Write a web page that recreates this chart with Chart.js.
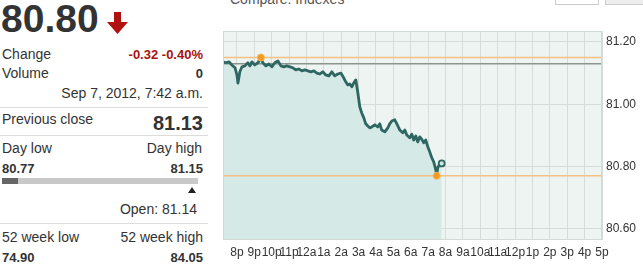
<!DOCTYPE html>
<html><head><meta charset="utf-8">
<script src="https://cdn.jsdelivr.net/npm/chart.js@4/dist/chart.umd.min.js"></script>
<style>
html,body{margin:0;padding:0;background:#fff;overflow:hidden;}
body{width:643px;height:269px;position:relative;font-family:"Liberation Sans",Arial,sans-serif;color:#333;}
.t{position:absolute;white-space:nowrap;line-height:1;}
.r{text-align:right;}
.b{font-weight:bold;}
.sep{position:absolute;left:0;width:208px;height:1px;background:#dcdcdc;}
#wrap{position:absolute;left:215px;top:0;width:428px;height:269px;}
</style></head><body>
<div class="t b" style="left:1px;top:-1px;font-size:39px;color:#333;">80.80</div>
<svg style="position:absolute;left:106px;top:12px" width="23" height="22" viewBox="0 0 23 22"><path d="M8 0 H15 V10 H22 L11.5 22 L1 10 H8 Z" fill="#b0120f"/></svg>
<div class="t" style="left:2px;top:47px;font-size:14px;">Change</div>
<div class="t r b" style="right:440px;top:48px;font-size:13px;color:#a8120f;">-0.32 -0.40%</div>
<div class="t" style="left:2px;top:66px;font-size:14px;">Volume</div>
<div class="t r b" style="right:440px;top:67px;font-size:13px;">0</div>
<div class="t r" style="right:440px;top:86px;font-size:14px;">Sep 7, 2012, 7:42 a.m.</div>
<div class="sep" style="top:107px"></div>
<div class="t" style="left:2px;top:112px;font-size:14px;">Previous close</div>
<div class="t r b" style="right:440px;top:113px;font-size:20px;">81.13</div>
<div class="sep" style="top:135px"></div>
<div class="t" style="left:2px;top:141px;font-size:14px;">Day low</div>
<div class="t r" style="right:441px;top:141px;font-size:14px;">Day high</div>
<div class="t b" style="left:2px;top:162px;font-size:13px;">80.77</div>
<div class="t r b" style="right:440px;top:162px;font-size:13px;">81.15</div>
<div style="position:absolute;left:2px;top:178px;width:196px;height:6px;background:#c9c9c9;"></div>
<div style="position:absolute;left:2px;top:178px;width:16px;height:6px;background:#666;"></div>
<svg style="position:absolute;left:188px;top:187px" width="8" height="6"><path d="M0 6 L4 0 L8 6 Z" fill="#222"/></svg>
<div class="t r" style="right:446px;top:202px;font-size:14px;">Open: 81.14</div>
<div class="sep" style="top:223px"></div>
<div class="t" style="left:2px;top:230px;font-size:14px;">52 week low</div>
<div class="t r" style="right:440px;top:230px;font-size:14px;">52 week high</div>
<div class="t b" style="left:2px;top:251px;font-size:13px;">74.90</div>
<div class="t r b" style="right:440px;top:251px;font-size:13px;">84.05</div>
<div class="t" style="left:230px;top:-8px;font-size:14px;color:#555;">Compare: Indexes</div>
<div style="position:absolute;left:555px;top:-2px;width:42px;height:5px;border:1px solid #ccc;"></div>
<div style="position:absolute;left:605px;top:-2px;width:40px;height:5px;border:1px solid #ccc;background:#eee;"></div>
<div id="wrap"><canvas id="c" width="428" height="269"></canvas></div>
<script>
// hours after 8 p.m. (Sep 6) and prices
const hours = [-0.80,-0.63,-0.46,-0.29,-0.11,0.00,0.06,0.17,0.29,0.46,0.63,0.75,0.86,1.03,1.21,1.38,1.49,1.67,1.84,2.01,2.18,2.36,2.53,2.70,2.87,3.05,3.22,3.39,3.56,3.74,3.91,4.08,4.25,4.43,4.60,4.77,4.94,5.11,5.29,5.46,5.63,5.80,5.98,6.15,6.26,6.38,6.49,6.61,6.72,6.84,6.95,7.07,7.18,7.30,7.41,7.53,7.64,7.76,7.93,8.10,8.22,8.33,8.51,8.68,8.79,8.91,9.08,9.20,9.37,9.54,9.66,9.77,9.94,10.06,10.17,10.29,10.40,10.52,10.63,10.75,10.86,10.98,11.09,11.21,11.32,11.44,11.49,11.55,11.67,11.78];
const prices = [81.136,81.133,81.136,81.126,81.117,81.094,81.068,81.104,81.120,81.123,81.133,81.123,81.136,81.126,81.133,81.150,81.133,81.123,81.129,81.120,81.133,81.139,81.123,81.120,81.123,81.120,81.117,81.110,81.113,81.107,81.110,81.107,81.104,81.107,81.100,81.097,81.104,81.094,81.091,81.104,81.091,81.097,81.100,81.084,81.072,81.062,81.065,81.056,81.068,81.078,81.039,80.991,80.972,80.956,80.937,80.930,80.924,80.927,80.934,80.927,80.937,80.917,80.911,80.924,80.937,80.946,80.950,80.937,80.917,80.908,80.917,80.901,80.892,80.904,80.885,80.898,80.879,80.895,80.888,80.876,80.885,80.863,80.847,80.828,80.815,80.789,80.770,80.796,80.808,80.810];
const hourLabels = ["8p","9p","10p","11p","12a","1a","2a","3a","4a","5a","6a","7a","8a","9a","10a","11a","12p","1p","2p","3p","4p","5p"];
const priceTicks = [80.60, 80.80, 81.00, 81.20];
const dayHigh = 81.15, dayLow = 80.77, prevClose = 81.13;
const extremeHours = [1.38, 11.49];
const extremeValues = [dayHigh, dayLow];

const xMin = -0.8, xMax = 21, yMin = 80.564, yMax = 81.235;
const mainData = hours.map((h,i)=>({x:h,y:prices[i]}));
const lastIdx = hours.length-1;
const refLine = (v)=>[{x:xMin,y:v},{x:xMax,y:v}];

const bgPlugin = {
  id:'bg',
  beforeDraw(chart){
    const {ctx, chartArea:a} = chart;
    ctx.save(); ctx.fillStyle='#eef4f1'; ctx.fillRect(a.left,a.top,a.right-a.left,a.bottom-a.top); ctx.restore();
  },
  afterDraw(chart){
    const {ctx, chartArea:a} = chart;
    ctx.save(); ctx.strokeStyle='#d2dad6'; ctx.lineWidth=1;
    ctx.strokeRect(a.left+0.5,a.top+0.5,a.right-a.left-1,a.bottom-a.top-1); ctx.restore();
  }
};

new Chart(document.getElementById('c'), {
  type:'line',
  data:{datasets:[
    {label:'area', data:mainData, borderWidth:0, borderColor:'rgba(0,0,0,0)', backgroundColor:'#d5e9e6', fill:'start', pointRadius:0, order:10},
    {label:'high', data:refLine(dayHigh), borderColor:'#f4c086', borderWidth:1.5, pointRadius:0, fill:false, order:5},
    {label:'prev', data:refLine(prevClose), borderColor:'#8d9592', borderWidth:1.5, pointRadius:0, fill:false, order:6},
    {label:'low', data:refLine(dayLow), borderColor:'#f4c086', borderWidth:1.5, pointRadius:0, fill:false, order:7},
    {label:'price', data:mainData, borderColor:'#2e6662', borderWidth:2.8, fill:false, pointRadius:0, tension:0, order:3, borderJoinStyle:'round'},
    {label:'ext', data:extremeHours.map((h,i)=>({x:h,y:extremeValues[i]})), showLine:false, pointRadius:3.5, pointBackgroundColor:'#f39a1e', pointBorderColor:'#f7b35a', pointBorderWidth:1, order:1},
    {label:'last', data:[{x:hours[lastIdx],y:prices[lastIdx]}], showLine:false, pointRadius:3, pointBackgroundColor:'#cfe5e2', pointBorderColor:'#2e6662', pointBorderWidth:1.8, order:0}
  ]},
  options:{
    responsive:false, animation:false, events:[],
    layout:{padding:{left:8, top:31, right:0, bottom:0}},
    plugins:{legend:{display:false}, tooltip:{enabled:false}},
    scales:{
      x:{type:'linear', min:xMin, max:xMax,
        afterBuildTicks:s=>{s.ticks=hourLabels.map((_,i)=>({value:i}));},
        afterFit:s=>{s.height=29;},
        grid:{color:'#d6ddd9', drawTicks:false},
        border:{display:false},
        ticks:{autoSkip:false, maxRotation:0, padding:5, color:'#333', font:{family:'"Liberation Sans", Arial', size:12},
          callback:(v)=>hourLabels[Math.round(v)]}
      },
      y:{type:'linear', position:'right', min:yMin, max:yMax,
        afterBuildTicks:s=>{s.ticks=priceTicks.map(v=>({value:v}));},
        afterFit:s=>{s.width=41;},
        grid:{color:'#d6ddd9', drawTicks:false},
        border:{display:false},
        ticks:{padding:4, color:'#333', font:{family:'"Liberation Sans", Arial', size:12},
          callback:(v)=>v.toFixed(2)}
      }
    }
  },
  plugins:[bgPlugin]
});
</script>
</body></html>
